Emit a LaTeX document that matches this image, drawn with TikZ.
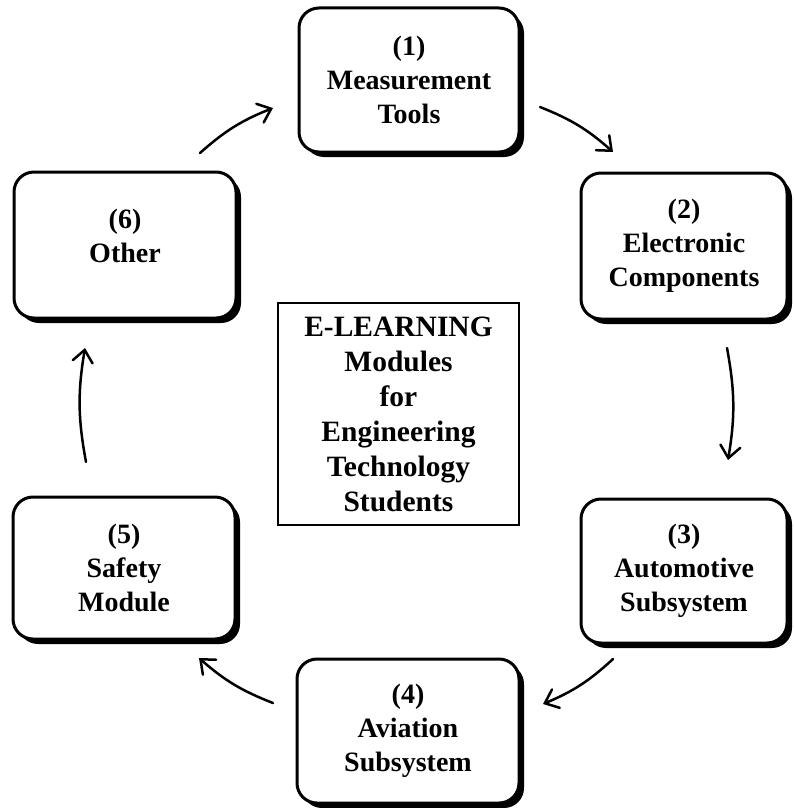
\documentclass[tikz,border=0pt]{standalone}
\usepackage{fontspec}
\setmainfont{Liberation Serif}
\usetikzlibrary{arrows.meta,shadows}
\begin{document}
\begin{tikzpicture}[x=1pt,y=-1pt,
  modbox/.style={draw=black, line width=3pt, fill=white, rounded corners=20pt,
    drop shadow={shadow xshift=5pt, shadow yshift=-5pt, opacity=1, fill=black},
    align=center, inner sep=0pt,
    font=\fontsize{28}{34}\selectfont\bfseries},
  centerbox/.style={draw=black, line width=1.5pt, fill=white, align=center,
    inner sep=0pt, minimum width=241pt, minimum height=222pt,
    font=\fontsize{29.5}{35}\selectfont\bfseries},
  flow/.style={line width=2.5pt, line cap=round,
    -{Straight Barb[length=12pt,width=20pt,line cap=round]}, bend left=10}]
\useasboundingbox (0,0) rectangle (794,808);
\node[modbox, minimum width=220pt, minimum height=144pt] (b1) at (409,80) {(1)\\Measurement\\Tools};
\node[modbox, minimum width=206pt, minimum height=146pt] (b2) at (684,246) {(2)\\Electronic\\Components};
\node[modbox, minimum width=206pt, minimum height=144pt] (b3) at (684,571) {(3)\\Automotive\\Subsystem};
\node[modbox, minimum width=222pt, minimum height=144pt] (b4) at (408,731) {(4)\\Aviation\\Subsystem};
\node[modbox, minimum width=222pt, minimum height=142pt] (b5) at (124,568) {(5)\\Safety\\Module};
\node[modbox, minimum width=222pt, minimum height=146pt, text depth=18pt] (b6) at (125,245) {(6)\\Other};
\node[centerbox] (c) at (398.5,414) {E-LEARNING\\Modules\\for\\Engineering\\Technology\\Students};
\coordinate (a1s) at (540,107); \coordinate (a1e) at (613,152);
\coordinate (a2s) at (727,348); \coordinate (a2e) at (728,460);
\coordinate (a3s) at (613,659); \coordinate (a3e) at (543,704);
\coordinate (a4s) at (273,703); \coordinate (a4e) at (199,658);
\coordinate (a5s) at (86,462);  \coordinate (a5e) at (85,348);
\coordinate (a6s) at (200,153); \coordinate (a6e) at (273,108);
\draw[flow] (a1s) to (a1e);
\draw[flow] (a2s) to (a2e);
\draw[flow] (a3s) to (a3e);
\draw[flow] (a4s) to (a4e);
\draw[flow] (a5s) to (a5e);
\draw[flow] (a6s) to (a6e);
\end{tikzpicture}
\end{document}
